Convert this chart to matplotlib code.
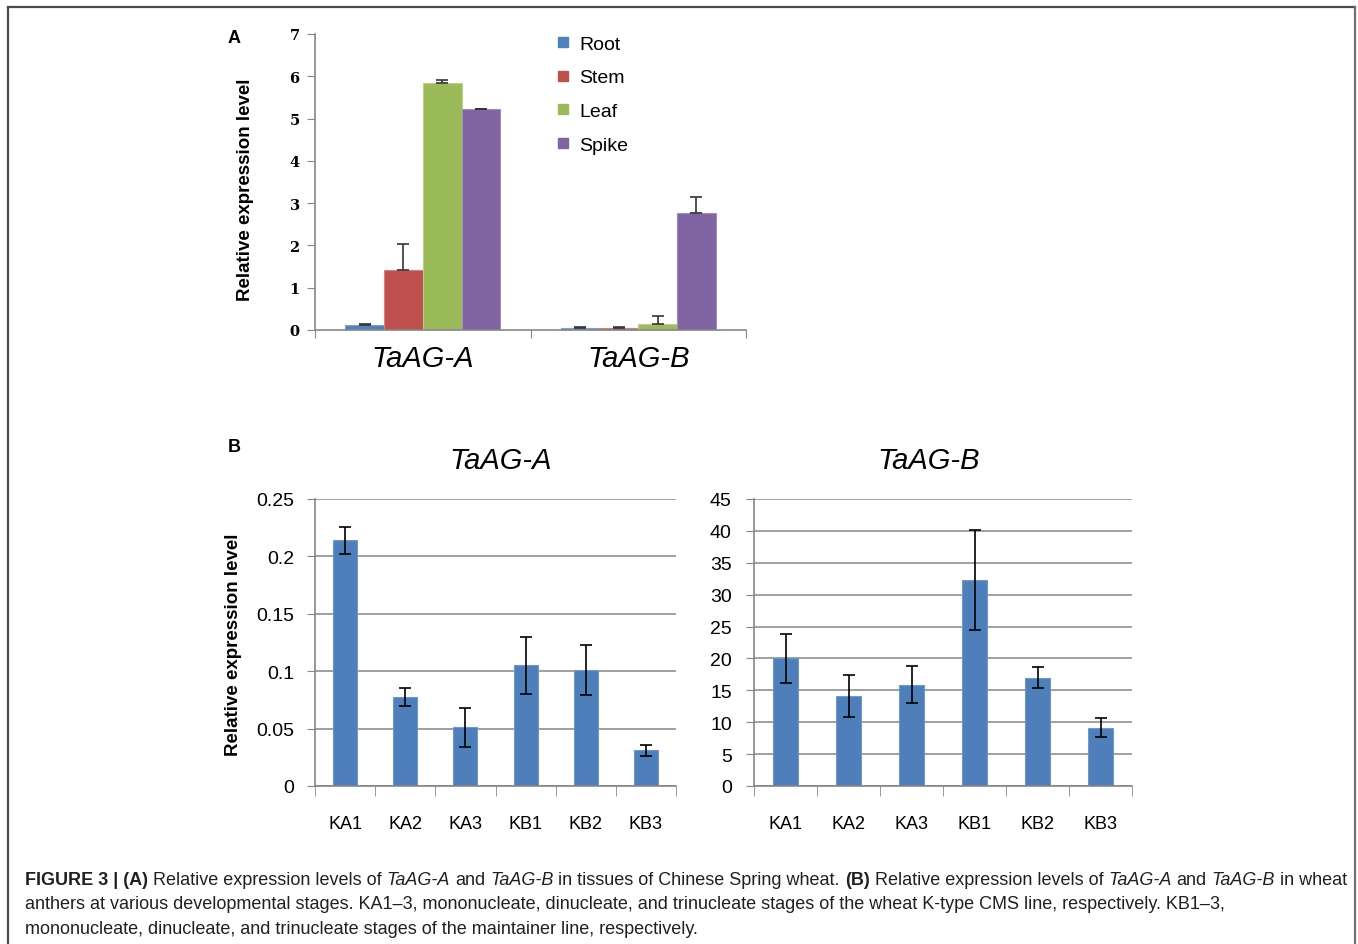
import numpy as np
import matplotlib.pyplot as plt
from matplotlib.lines import Line2D

# panel A: tissues
genes = ['TaAG-A', 'TaAG-B']
tissues = ['Root', 'Stem', 'Leaf', 'Spike']
tissue_vals = [[0.11, 0.04], [1.42, 0.04], [5.83, 0.15], [5.22, 2.77]]
tissue_err = [[0.03, 0.025], [0.61, 0.025], [0.09, 0.19], [0.01, 0.38]]
tissue_colors = ['#4F81BD', '#C0504D', '#9BBB59', '#8064A2']
tissue_edges = ['#7FA3D0', '#D08380', '#B9D08C', '#A08CC0']

# panel B: anther stages
stages = ['KA1', 'KA2', 'KA3', 'KB1', 'KB2', 'KB3']
agA_vals = [0.214, 0.0775, 0.051, 0.105, 0.101, 0.031]
agA_err = [0.012, 0.0075, 0.017, 0.0245, 0.0215, 0.005]
agB_vals = [20.0, 14.1, 15.9, 32.3, 17.0, 9.15]
agB_err = [3.85, 3.3, 2.9, 7.85, 1.6, 1.5]
agA_ticks = [0, 0.05, 0.1, 0.15, 0.2, 0.25]
agA_ticklabels = ['0', '0.05', '0.1', '0.15', '0.2', '0.25']
agB_ticks = [0, 5, 10, 15, 20, 25, 30, 35, 40, 45]

W, H = 1358, 945
GRAY = '#868686'
SANS = 'Liberation Sans'

fig = plt.figure(figsize=(W / 100, H / 100), dpi=100)


def fx(px):
    return px / W


def fy(py):
    return 1 - py / H


def box(x0, y0, x1, y1):
    # pixel box (top-left origin) -> figure rect
    return [fx(x0), fy(y1), fx(x1) - fx(x0), fy(y0) - fy(y1)]


# ---------------- panel A ----------------
axA = fig.add_axes(box(315, 35, 746, 331))
w = 0.18
xg = np.arange(len(genes))
for i, t in enumerate(tissues):
    xs = xg + (i - 1.5) * w
    axA.bar(xs, tissue_vals[i], width=w, color=tissue_colors[i],
            edgecolor=tissue_edges[i], linewidth=0.8, label=t, zorder=2)
    axA.errorbar(xs, tissue_vals[i],
                 yerr=[np.zeros(len(genes)), tissue_err[i]],
                 fmt='none', ecolor='#333333', elinewidth=1.2,
                 capsize=4, capthick=1.2, zorder=3)
axA.set_xlim(-0.5, 1.5)
axA.set_ylim(0, 7)
axA.set_yticks(range(8))
axA.set_yticklabels([str(v) for v in range(8)], fontfamily='DejaVu Serif',
                    fontweight='bold', fontsize=10.5)
axA.set_xticks([-0.5, 0.5, 1.5])
axA.set_xticklabels([])
axA.set_xticks(xg, genes, minor=True)
for lab in axA.get_xticklabels(minor=True):
    lab.set_fontfamily(SANS)
    lab.set_fontstyle('italic')
    lab.set_fontsize(21)
axA.tick_params(axis='x', which='major', length=6, color=GRAY, direction='out')
axA.tick_params(axis='x', which='minor', length=0, pad=10)
axA.tick_params(axis='y', length=6, color=GRAY, pad=5)
for s in ['top', 'right']:
    axA.spines[s].set_visible(False)
for s in ['left', 'bottom']:
    axA.spines[s].set_color(GRAY)
    axA.spines[s].set_linewidth(1.2)

handles = [Line2D([], [], marker='s', ls='', color=c, markersize=7)
           for c in tissue_colors]
fig.legend(handles, tissues, loc='upper left',
           bbox_to_anchor=(fx(558), fy(36)), frameon=False,
           prop={'family': SANS, 'size': 14}, handlelength=0.5,
           handletextpad=0.6, labelspacing=0.83, borderpad=0,
           borderaxespad=0)

fig.text(fx(245), fy(190), 'Relative expression level', rotation=90,
         ha='center', va='center', family=SANS, weight='bold', fontsize=13.5)
fig.text(fx(228), fy(43), 'A', family=SANS, weight='bold', fontsize=13,
         va='baseline')


# ---------------- panel B ----------------
def stage_panel(ax, vals, err, ticks, ticklabels, ypad):
    xs = np.arange(len(stages))
    ax.bar(xs, vals, width=0.4, color='#4F7FBA', edgecolor='#7098CB',
           linewidth=0.8, zorder=2)
    ax.errorbar(xs, vals, yerr=err, fmt='none', ecolor='black',
                elinewidth=1.2, capsize=4, capthick=1.2, zorder=3)
    ax.set_xlim(-0.5, len(stages) - 0.5)
    ax.set_ylim(ticks[0], ticks[-1])
    ax.set_yticks(ticks)
    ax.set_yticklabels(ticklabels, family=SANS, fontsize=14)
    ax.set_xticks(xs, stages, family=SANS, fontsize=13)
    ax.set_xticks(np.arange(len(stages) + 1) - 0.5, minor=True)
    ax.tick_params(axis='x', which='major', length=0, pad=21)
    ax.tick_params(axis='x', which='minor', length=7, color=GRAY)
    ax.tick_params(axis='y', length=6, color=GRAY, pad=ypad)
    ax.yaxis.grid(True, color=GRAY, linewidth=1.1)
    ax.set_axisbelow(True)
    for s in ['top', 'right']:
        ax.spines[s].set_visible(False)
    for s in ['left', 'bottom']:
        ax.spines[s].set_color(GRAY)
        ax.spines[s].set_linewidth(1.2)


axB1 = fig.add_axes(box(315, 500, 676, 787))
stage_panel(axB1, agA_vals, agA_err, agA_ticks, agA_ticklabels, 9)
axB2 = fig.add_axes(box(754, 500, 1132, 787))
stage_panel(axB2, agB_vals, agB_err, agB_ticks,
            [str(v) for v in agB_ticks], 10)

fig.text(fx(501), fy(469), 'TaAG-A', ha='center', va='baseline', family=SANS,
         style='italic', fontsize=21)
fig.text(fx(929), fy(469), 'TaAG-B', ha='center', va='baseline', family=SANS,
         style='italic', fontsize=21)
fig.text(fx(234), fy(645), 'Relative expression level', rotation=90,
         ha='center', va='center', family=SANS, weight='bold', fontsize=13.5)
fig.text(fx(228), fy(452), 'B', family=SANS, weight='bold', fontsize=13,
         va='baseline')

# ---------------- caption ----------------
renderer = fig.canvas.get_renderer()


def text_width(s, **kw):
    t = fig.text(0, 0, s, **kw)
    wd = t.get_window_extent(renderer=renderer).width
    t.remove()
    return wd


def rich_line(x_px, y_px, pieces, size=12.95):
    x = x_px
    for txt, style in pieces:
        kw = dict(family=SANS, fontsize=size, color='#231F20',
                  weight='bold' if 'b' in style else 'normal',
                  style='italic' if 'i' in style else 'normal')
        sp = text_width('a a', **kw) - text_width('aa', **kw)
        core = txt.strip(' ')
        lead = len(txt) - len(txt.lstrip(' '))
        trail = len(txt) - len(txt.rstrip(' '))
        x += lead * sp
        if core:
            fig.text(fx(x), fy(y_px), core, va='baseline', **kw)
            x += text_width(core, **kw)
        x += trail * sp


cap1 = [('FIGURE 3 | (A)', 'b'), (' Relative expression levels of ', ''),
        ('TaAG-A', 'i'), (' and ', ''), ('TaAG-B', 'i'),
        (' in tissues of Chinese Spring wheat. ', ''), ('(B)', 'b'),
        (' Relative expression levels of ', ''), ('TaAG-A', 'i'),
        (' and ', ''), ('TaAG-B', 'i'), (' in wheat', '')]
cap2 = [('anthers at various developmental stages. KA1\u20133, mononucleate, '
         'dinucleate, and trinucleate stages of the wheat K-type CMS line, '
         'respectively. KB1\u20133,', '')]
cap3 = [('mononucleate, dinucleate, and trinucleate stages of the maintainer '
         'line, respectively.', '')]
rich_line(25, 885, cap1)
rich_line(25, 909, cap2)
rich_line(25, 934, cap3)

# frame around the figure (bottom edge is cut off)
for xs_, ys_, c in [([8, 8], [8, H + 5], '#4a4a4a'),
                    ([8, 1355], [8, 8], '#4a4a4a'),
                    ([1355, 1355], [8, H + 5], '#707070')]:
    fig.add_artist(Line2D([fx(v) for v in xs_], [fy(v) for v in ys_],
                          transform=fig.transFigure, color=c, lw=1.6))

fig.savefig('out.png', dpi=100)
